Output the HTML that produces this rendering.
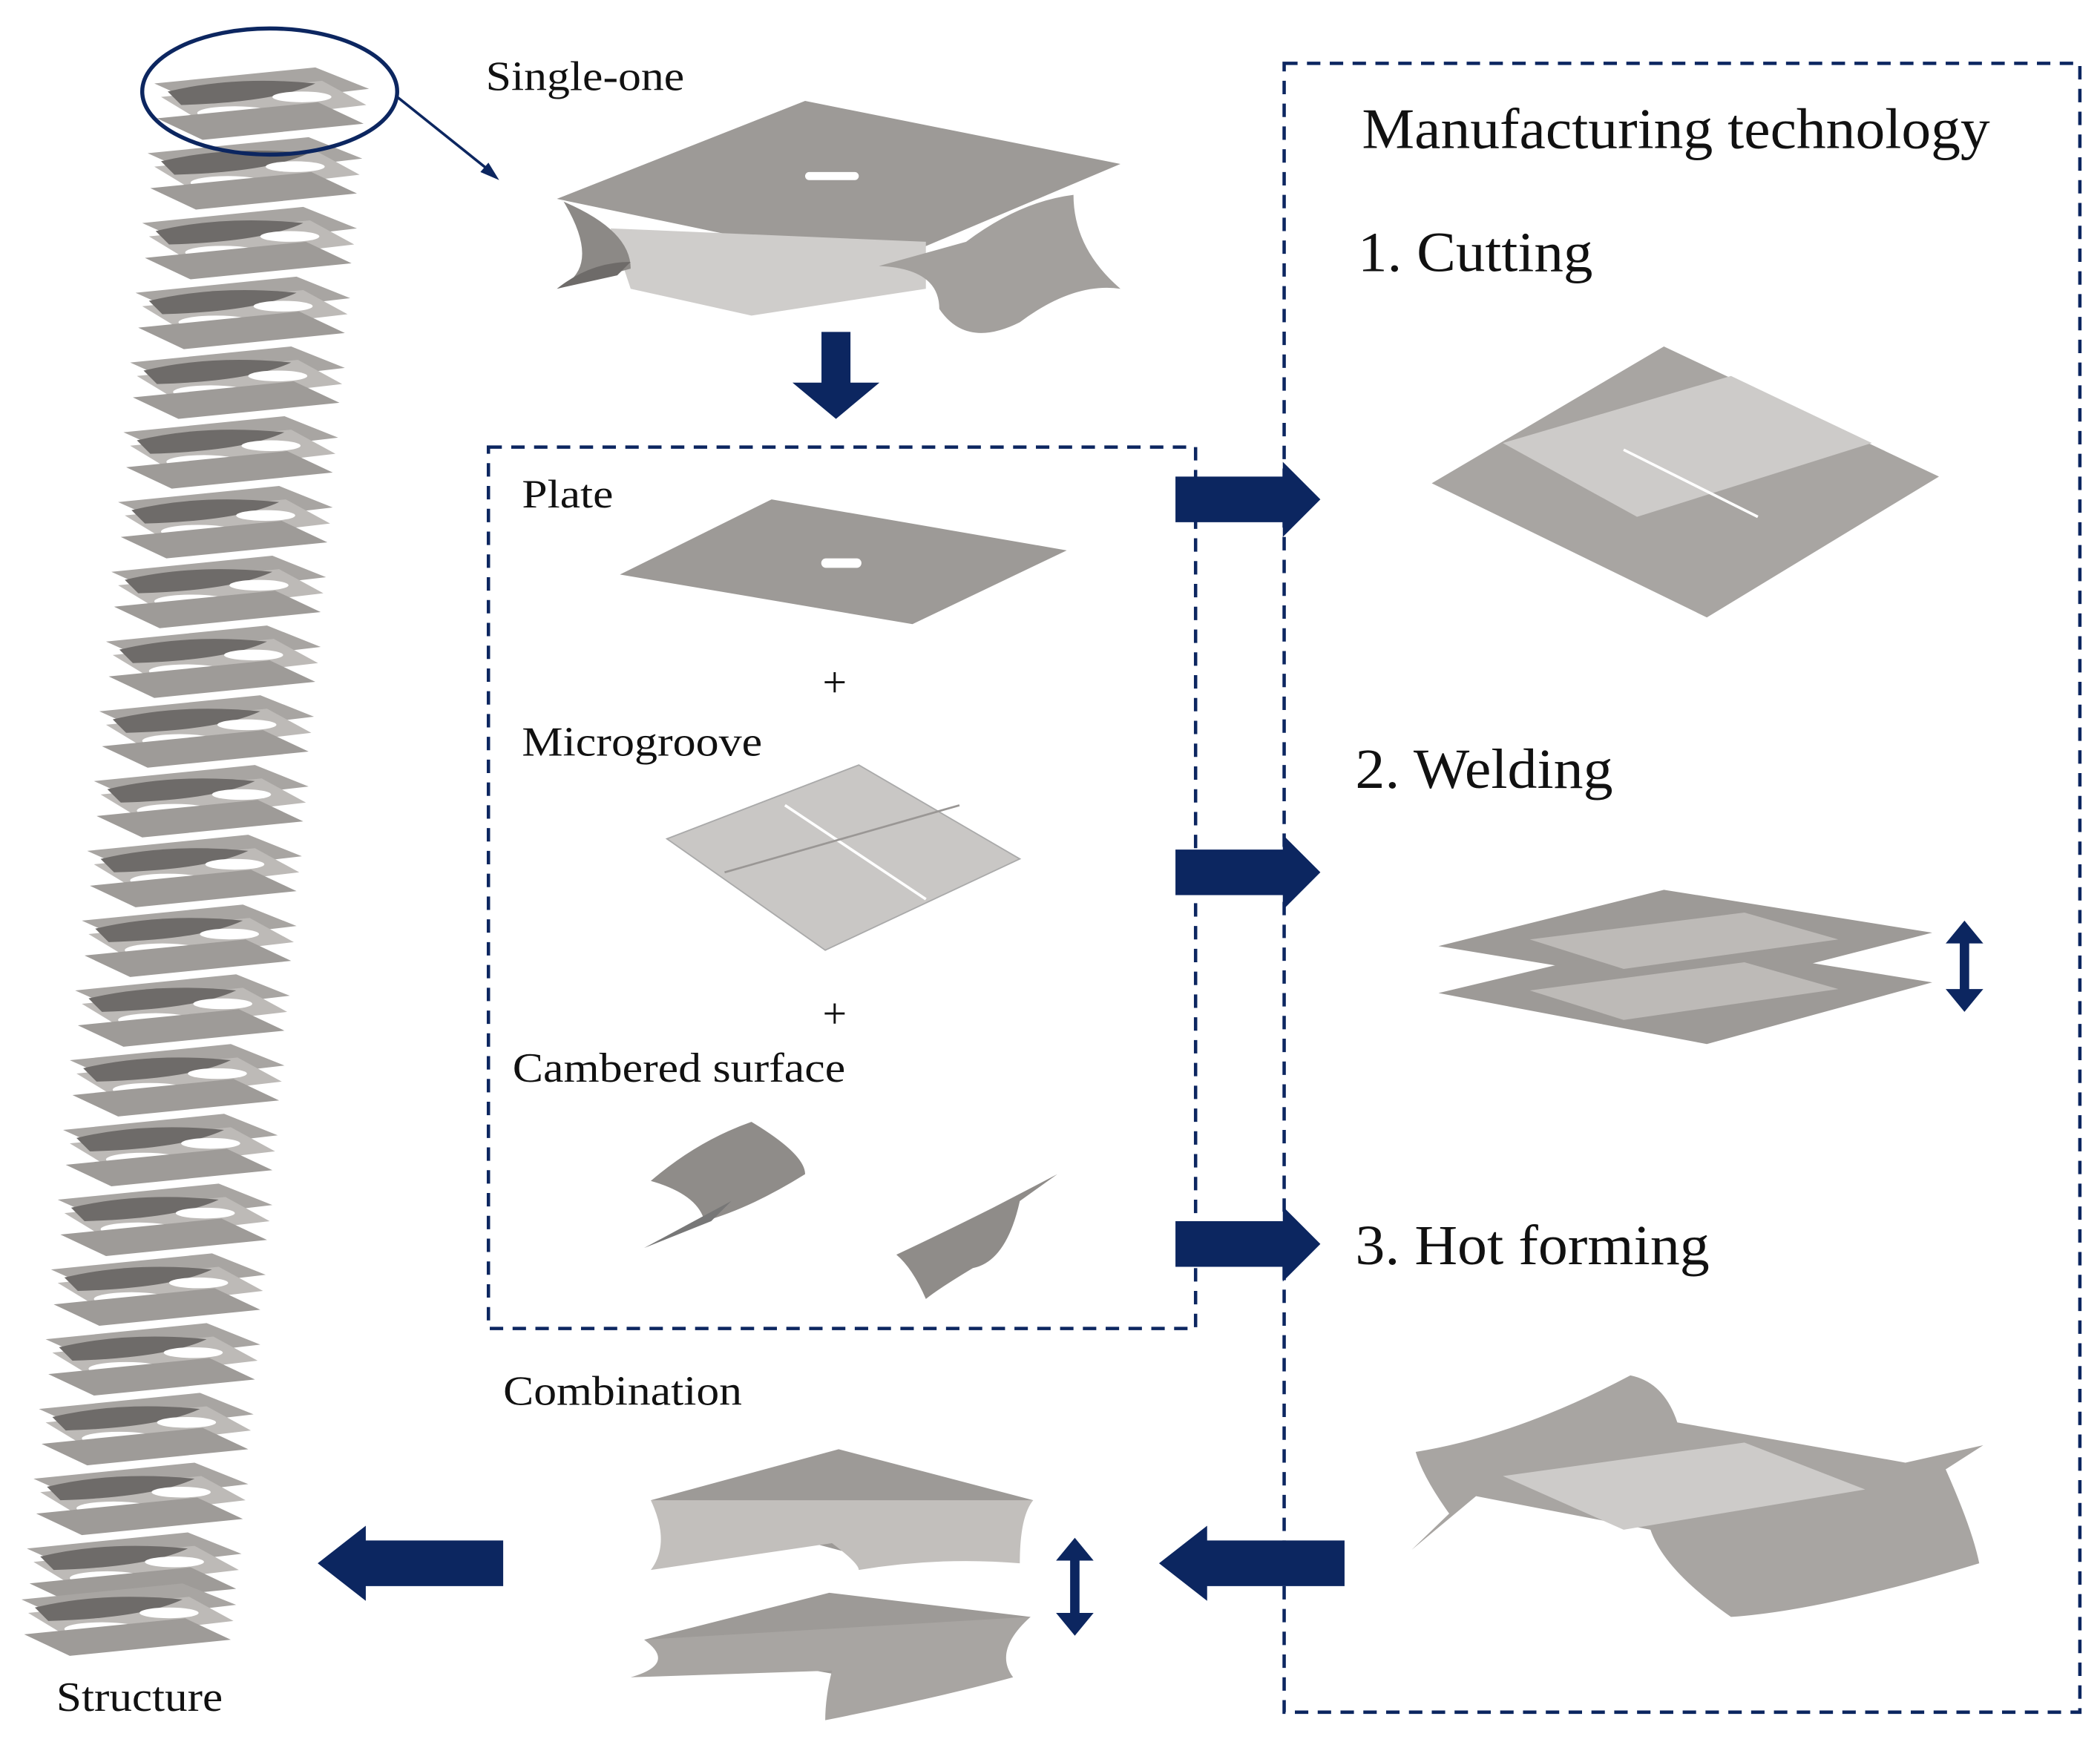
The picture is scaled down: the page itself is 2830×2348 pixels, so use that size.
<!DOCTYPE html>
<html><head><meta charset="utf-8"><style>
html,body{margin:0;padding:0;background:#fff;}
svg{display:block}
text{font-family:"Liberation Serif",serif;fill:#111}
</style></head><body>
<svg width="2830" height="2348" viewBox="0 0 1565 1298" xmlns="http://www.w3.org/2000/svg">
<defs>
<g id="unit">
<polygon points="-80,-8 40,-20 80,-4 -40,10" fill="#a8a5a2"/>
<polygon points="-75,2 45,-10 78,8 -42,22" fill="#bdbab7"/>
<path d="M-70,-2 Q-20,-14 40,-8 Q10,6 -60,8 Z" fill="#6e6b69"/>
<ellipse cx="-20" cy="14" rx="28" ry="5" fill="#fff"/>
<ellipse cx="30" cy="2" rx="22" ry="4" fill="#fff"/>
<polygon points="-78,18 42,6 76,22 -44,34" fill="#9e9b98"/>
</g>
<g id="rarrow"><polygon points="0,-17 80,-17 80,-28 108,0 80,28 80,17 0,17" fill="#0c2660"/></g>
<g id="darrow"><polygon points="-4,-24 4,-24 4,-10 12,-10 0,0 -12,-10 -4,-10" fill="#0c2660"/></g>
</defs>

<rect x="957" y="47" width="593" height="1229" fill="none" stroke="#0c2660" stroke-width="2.5" stroke-dasharray="10,7"/>
<rect x="364" y="333" width="527" height="657" fill="none" stroke="#0c2660" stroke-width="2.5" stroke-dasharray="10,7"/>

<g>
<use href="#unit" transform="translate(195,70)"/>
<use href="#unit" transform="translate(190,122)"/>
<use href="#unit" transform="translate(186,174)"/>
<use href="#unit" transform="translate(181,226)"/>
<use href="#unit" transform="translate(177,278)"/>
<use href="#unit" transform="translate(172,330)"/>
<use href="#unit" transform="translate(168,382)"/>
<use href="#unit" transform="translate(163,434)"/>
<use href="#unit" transform="translate(159,486)"/>
<use href="#unit" transform="translate(154,538)"/>
<use href="#unit" transform="translate(150,590)"/>
<use href="#unit" transform="translate(145,642)"/>
<use href="#unit" transform="translate(141,694)"/>
<use href="#unit" transform="translate(136,746)"/>
<use href="#unit" transform="translate(132,798)"/>
<use href="#unit" transform="translate(127,850)"/>
<use href="#unit" transform="translate(123,902)"/>
<use href="#unit" transform="translate(118,954)"/>
<use href="#unit" transform="translate(114,1006)"/>
<use href="#unit" transform="translate(109,1058)"/>
<use href="#unit" transform="translate(105,1110)"/>
<use href="#unit" transform="translate(100,1162)"/>
<use href="#unit" transform="translate(96,1200)"/>
</g>
<ellipse cx="201" cy="68" rx="95" ry="47" fill="none" stroke="#0c2660" stroke-width="3"/>
<line x1="296" y1="72" x2="366" y2="128" stroke="#0c2660" stroke-width="2"/>
<polygon points="372,134 358,128 364,121" fill="#0c2660"/>

<polygon points="415,148 600,75 835,122 655,198" fill="#9d9a97"/>
<rect x="600" y="128" width="40" height="6" rx="3" fill="#fff"/>
<polygon points="455,170 690,180 690,215 560,235 470,215" fill="#cfcdcb"/>
<path d="M415,148 Q470,170 470,200 L415,215 Q450,200 420,150 Z" fill="#8c8986"/>
<path d="M655,198 Q700,200 700,230 Q720,260 760,240 Q800,210 835,215 Q800,185 800,145 Q760,150 720,180 Z" fill="#a3a09d"/>
<path d="M415,215 Q440,195 470,195 L460,205 Z" fill="#6e6b69"/>

<use href="#darrow" transform="translate(623,312) scale(2.7)"/>

<polygon points="462,428 575,372 795,410 680,465" fill="#9d9a97"/>
<rect x="612" y="416" width="30" height="7" rx="3.5" fill="#fff"/>
<polygon points="497,625 640,570 760,640 615,708" fill="#c9c7c5" stroke="#aaa" stroke-width="1"/>
<line x1="585" y1="600" x2="690" y2="670" stroke="#fff" stroke-width="2"/>
<line x1="540" y1="650" x2="715" y2="600" stroke="#9a9795" stroke-width="1.5"/>
<path d="M485,880 Q520,850 560,836 Q600,860 600,875 Q560,900 525,910 Q520,890 485,880 Z" fill="#8f8c89"/>
<path d="M480,930 L545,895 L530,910 Z" fill="#777"/>
<path d="M668,935 Q700,920 740,900 L788,875 L760,895 Q750,940 725,945 Q700,960 690,968 Q680,945 668,935 Z" fill="#8f8c89"/>

<use href="#rarrow" transform="translate(876,372)"/>
<use href="#rarrow" transform="translate(876,650)"/>
<use href="#rarrow" transform="translate(876,927)"/>

<polygon points="1067,360 1240,258 1445,355 1272,460" fill="#a8a5a2"/>
<polygon points="1120,330 1290,280 1395,330 1220,385" fill="#cdcbc9"/>
<line x1="1210" y1="335" x2="1310" y2="385" stroke="#fff" stroke-width="2"/>
<polygon points="1072,705 1240,663 1440,695 1272,738" fill="#9d9a97"/>
<polygon points="1072,740 1240,700 1440,732 1272,778" fill="#9d9a97"/>
<polygon points="1140,700 1300,680 1370,700 1210,722" fill="#bdbab7"/>
<polygon points="1140,738 1300,717 1370,737 1210,760" fill="#bdbab7"/>
<line x1="1464" y1="700" x2="1464" y2="740" stroke="#0c2660" stroke-width="7"/>
<polygon points="1450,703 1464,686 1478,703" fill="#0c2660"/>
<polygon points="1450,737 1464,754 1478,737" fill="#0c2660"/>
<path d="M1055,1082 Q1130,1070 1215,1025 Q1240,1030 1250,1060 L1420,1090 L1478,1077 L1450,1095 Q1470,1140 1475,1165 Q1360,1200 1290,1205 Q1240,1170 1230,1140 L1100,1115 Q1070,1140 1052,1155 L1080,1128 Q1060,1100 1055,1082 Z" fill="#a8a5a2"/>
<polygon points="1120,1100 1300,1075 1390,1110 1210,1140" fill="#cdcbc9"/>

<use href="#rarrow" transform="translate(1002,1165) scale(-1.28,1)"/>
<use href="#rarrow" transform="translate(375,1165) scale(-1.28,1)"/>

<polygon points="485,1118 625,1080 770,1118 632,1157" fill="#9d9a97"/>
<path d="M485,1118 Q500,1150 485,1170 L620,1150 Q640,1165 640,1170 Q700,1160 760,1165 Q760,1130 770,1118 Z" fill="#c2bfbc"/>
<polygon points="480,1222 618,1187 768,1205 635,1250" fill="#9d9a97"/>
<path d="M480,1222 Q505,1240 470,1250 L620,1245 Q615,1265 615,1282 Q700,1265 755,1250 Q740,1230 768,1205 Z" fill="#a8a5a2"/>
<line x1="801" y1="1160" x2="801" y2="1205" stroke="#0c2660" stroke-width="7"/>
<polygon points="787,1163 801,1146 815,1163" fill="#0c2660"/>
<polygon points="787,1202 801,1219 815,1202" fill="#0c2660"/>

<text x="362" y="67" font-size="31" textLength="148" lengthAdjust="spacingAndGlyphs">Single-one</text>
<text x="1015" y="110" font-size="43" textLength="468" lengthAdjust="spacingAndGlyphs">Manufacturing technology</text>
<text x="1012" y="202" font-size="42" textLength="175" lengthAdjust="spacingAndGlyphs">1. Cutting</text>
<text x="1010" y="587" font-size="42" textLength="192" lengthAdjust="spacingAndGlyphs">2. Welding</text>
<text x="1010" y="942" font-size="42" textLength="264" lengthAdjust="spacingAndGlyphs">3. Hot forming</text>
<text x="389" y="378" font-size="30" textLength="68" lengthAdjust="spacingAndGlyphs">Plate</text>
<text x="622" y="519" font-size="32" text-anchor="middle">+</text>
<text x="389" y="563" font-size="31" textLength="179" lengthAdjust="spacingAndGlyphs">Microgroove</text>
<text x="622" y="766" font-size="32" text-anchor="middle">+</text>
<text x="382" y="806" font-size="31" textLength="248" lengthAdjust="spacingAndGlyphs">Cambered surface</text>
<text x="375" y="1047" font-size="31" textLength="178" lengthAdjust="spacingAndGlyphs">Combination</text>
<text x="42" y="1275" font-size="31" textLength="124" lengthAdjust="spacingAndGlyphs">Structure</text>
</svg>
</body></html>
